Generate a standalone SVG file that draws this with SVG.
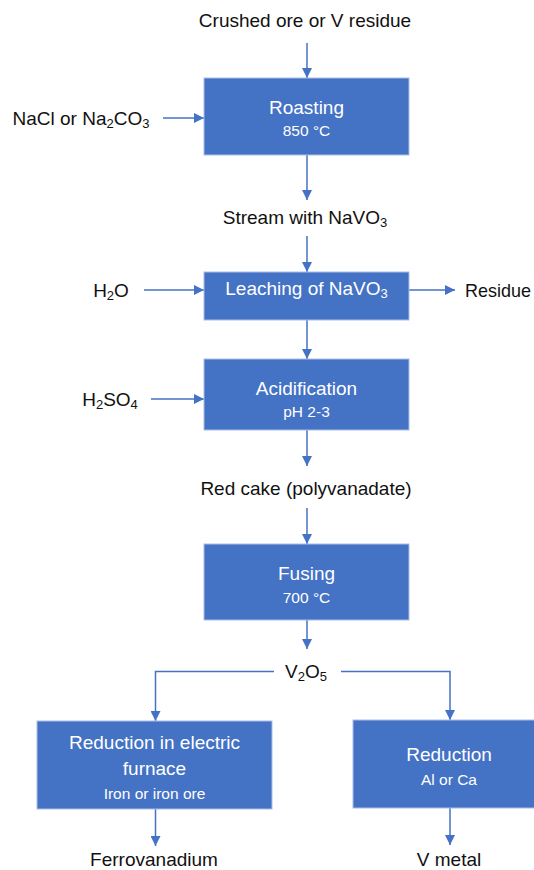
<svg xmlns="http://www.w3.org/2000/svg" width="534" height="870" viewBox="0 0 534 870">
<defs>
<marker id="ah" viewBox="0 0 10 10" refX="10" refY="5" markerWidth="10" markerHeight="10" markerUnits="userSpaceOnUse" orient="auto">
<path d="M0,0 L10,5 L0,10 Z" fill="#4472C4"/>
</marker>
<style>
.box{fill:#4472C4;stroke:#A9BEE6;stroke-width:1}
.ln{fill:none;stroke:#4472C4;stroke-width:1.5}
.arr{fill:none;stroke:#4472C4;stroke-width:1.5;marker-end:url(#ah)}
.lbl{font-family:"Liberation Sans",Arial,sans-serif;font-size:19px;fill:#111;text-anchor:middle;dominant-baseline:central}
.t1{font-family:"Liberation Sans",Arial,sans-serif;font-size:19px;fill:#fff;text-anchor:middle;dominant-baseline:central}
.t2{font-family:"Liberation Sans",Arial,sans-serif;font-size:15.5px;fill:#fff;text-anchor:middle;dominant-baseline:central}
</style>
</defs>
<rect width="534" height="870" fill="#fff"/>
<g id="connectors">
<line class="arr" x1="307" y1="43" x2="307" y2="78"/>
<line class="arr" x1="163" y1="118" x2="204" y2="118"/>
<line class="arr" x1="307" y1="155" x2="307" y2="200"/>
<line class="arr" x1="307" y1="236" x2="307" y2="272"/>
<line class="arr" x1="144" y1="290" x2="204" y2="290"/>
<line class="arr" x1="409" y1="290" x2="455" y2="290"/>
<line class="arr" x1="307" y1="320" x2="307" y2="359"/>
<line class="arr" x1="151" y1="399" x2="204" y2="399"/>
<line class="arr" x1="307" y1="430" x2="307" y2="466"/>
<line class="arr" x1="307" y1="508" x2="307" y2="544"/>
<line class="arr" x1="307" y1="620" x2="307" y2="649"/>
<path class="arr" d="M274,671.5 H155.5 V721"/>
<path class="arr" d="M341,671.5 H450 V720"/>
<line class="arr" x1="155.5" y1="809" x2="155.5" y2="846"/>
<line class="arr" x1="450" y1="808" x2="450" y2="845"/>
</g>
<g id="in-ore"><text class="lbl" x="305" y="20">Crushed ore or V residue</text></g>
<g id="in-nacl"><text class="lbl" x="81" y="118">NaCl or Na<tspan font-size="13" dy="5">2</tspan><tspan dy="-5">CO</tspan><tspan font-size="13" dy="5">3</tspan></text></g>
<g id="roasting">
<rect class="box" x="204" y="78" width="205" height="77"/>
<text class="t1" x="306.5" y="107">Roasting</text>
<text class="t2" x="306.5" y="130">850 °C</text>
</g>
<g id="stream"><text class="lbl" x="305" y="217">Stream with NaVO<tspan font-size="13" dy="5">3</tspan></text></g>
<g id="in-h2o"><text class="lbl" x="111" y="290">H<tspan font-size="13" dy="5">2</tspan><tspan dy="-5">O</tspan></text></g>
<g id="leaching">
<rect class="box" x="204" y="272" width="205" height="48"/>
<text class="t1" x="306.5" y="288">Leaching of NaVO<tspan font-size="13" dy="5">3</tspan></text>
</g>
<g id="residue"><text class="lbl" x="465" y="290" style="text-anchor:start" textLength="66" lengthAdjust="spacingAndGlyphs">Residue</text></g>
<g id="in-h2so4"><text class="lbl" x="110" y="399">H<tspan font-size="13" dy="5">2</tspan><tspan dy="-5">SO</tspan><tspan font-size="13" dy="5">4</tspan></text></g>
<g id="acidification">
<rect class="box" x="204" y="359" width="205" height="71"/>
<text class="t1" x="306.5" y="388">Acidification</text>
<text class="t2" x="306.5" y="411">pH 2-3</text>
</g>
<g id="redcake"><text class="lbl" x="306" y="488">Red cake (polyvanadate)</text></g>
<g id="fusing">
<rect class="box" x="204" y="544" width="205" height="76"/>
<text class="t1" x="306.5" y="573">Fusing</text>
<text class="t2" x="306.5" y="597">700 °C</text>
</g>
<g id="v2o5"><text class="lbl" x="306" y="671">V<tspan font-size="13" dy="5">2</tspan><tspan dy="-5">O</tspan><tspan font-size="13" dy="5">5</tspan></text></g>
<g id="red-furnace">
<rect class="box" x="37" y="721" width="235" height="88"/>
<text class="t1" x="154.5" y="742">Reduction in electric</text>
<text class="t1" x="154.5" y="768">furnace</text>
<text class="t2" x="154.5" y="793">Iron or iron ore</text>
</g>
<g id="red-alca">
<rect class="box" x="353" y="720" width="195" height="88"/>
<text class="t1" x="449" y="754">Reduction</text>
<text class="t2" x="449" y="779">Al or Ca</text>
</g>
<g id="ferrovanadium"><text class="lbl" x="154" y="859">Ferrovanadium</text></g>
<g id="vmetal"><text class="lbl" x="449" y="859">V metal</text></g>
</svg>
